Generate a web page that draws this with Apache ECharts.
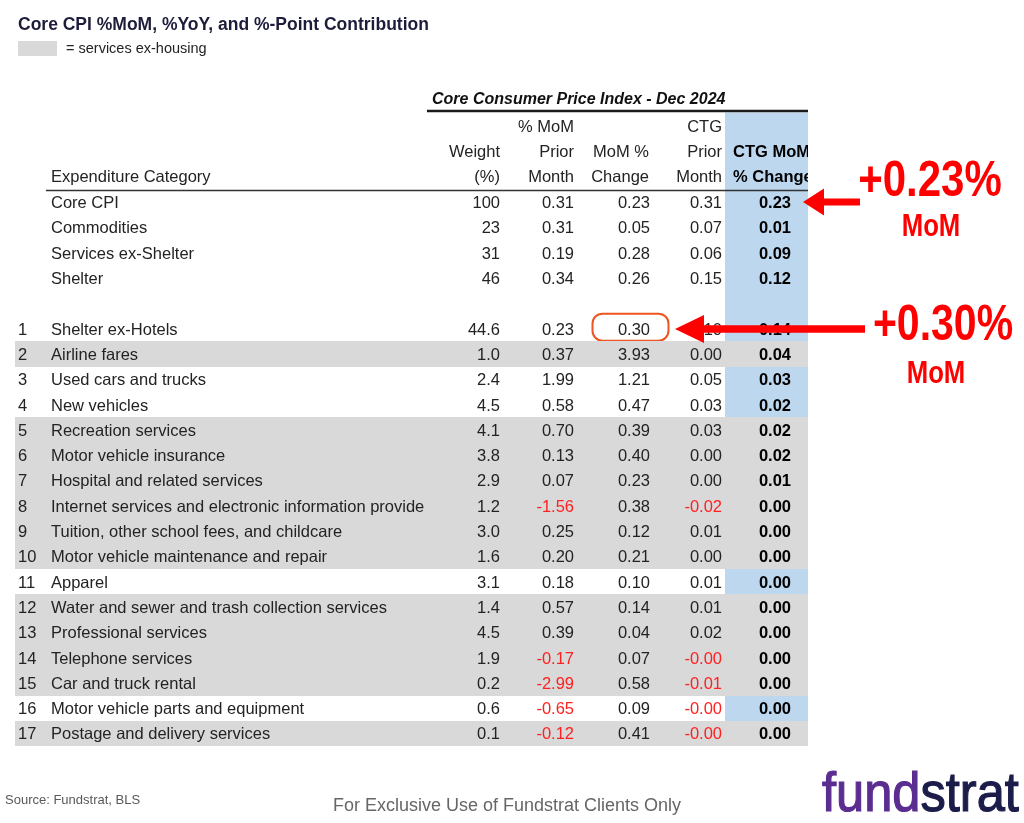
<!DOCTYPE html>
<html>
<head>
<meta charset="utf-8">
<script src="https://cdn.jsdelivr.net/npm/echarts@6/dist/echarts.min.js"></script>
<style>html,body{margin:0;padding:0;background:#fff}#c{width:1024px;height:823px}</style>
</head>
<body>
<div id="c"></div>
<script>
// ---------------- data ----------------
const rowNumbers = ['', '', '', '', '', '1', '2', '3', '4', '5', '6', '7', '8', '9', '10', '11', '12', '13', '14', '15', '16', '17'];
const categories = ['Core CPI', 'Commodities', 'Services ex-Shelter', 'Shelter', '',
  'Shelter ex-Hotels', 'Airline fares', 'Used cars and trucks', 'New vehicles', 'Recreation services',
  'Motor vehicle insurance', 'Hospital and related services', 'Internet services and electronic information provide',
  'Tuition, other school fees, and childcare', 'Motor vehicle maintenance and repair', 'Apparel',
  'Water and sewer and trash collection services', 'Professional services', 'Telephone services',
  'Car and truck rental', 'Motor vehicle parts and equipment', 'Postage and delivery services'];
const weights   = [100, 23, 31, 46, null, 44.6, 1.0, 2.4, 4.5, 4.1, 3.8, 2.9, 1.2, 3.0, 1.6, 3.1, 1.4, 4.5, 1.9, 0.2, 0.6, 0.1];
const momPrior  = [0.31, 0.31, 0.19, 0.34, null, 0.23, 0.37, 1.99, 0.58, 0.70, 0.13, 0.07, -1.56, 0.25, 0.20, 0.18, 0.57, 0.39, -0.17, -2.99, -0.65, -0.12];
const momChange = [0.23, 0.05, 0.28, 0.26, null, 0.30, 3.93, 1.21, 0.47, 0.39, 0.40, 0.23, 0.38, 0.12, 0.21, 0.10, 0.14, 0.04, 0.07, 0.58, 0.09, 0.41];
const ctgPrior  = [0.31, 0.07, 0.06, 0.15, null, 0.10, 0.00, 0.05, 0.03, 0.03, 0.00, 0.00, -0.02, 0.01, 0.00, 0.01, 0.01, 0.02, -0.001, -0.01, -0.001, -0.001];
const ctgMoM    = [0.23, 0.01, 0.09, 0.12, null, 0.14, 0.04, 0.03, 0.02, 0.02, 0.02, 0.01, 0.00, 0.00, 0.00, 0.00, 0.00, 0.00, 0.00, 0.00, 0.00, 0.00];
const servicesExHousing = [false, false, false, false, false, false, true, false, false, true, true, true, true, true, true, false, true, true, true, true, false, true];
const headerTop = ['', '% MoM', '', 'CTG', ''];
const headerMid = ['Weight', 'Prior', 'MoM %', 'Prior', 'CTG MoM'];
const headerBot = ['(%)', 'Month', 'Change', 'Month', '% Change'];
const highlightRow = 5;

// ---------------- layout / style ----------------
const FONT = "'Liberation Sans', Arial, Helvetica, sans-serif";
const TXT = '#232323', NEG = '#ff2020', GRAY = '#d9d9d9', BLUE = '#bdd7ee';
const COL = { idx: 3, name: 36, weight: 485, momPrior: 559, momChange: 635, ctgPrior: 707, ctgMoM: 776, blueLeft: 710, right: 793 };
const FS = 16.5;

function t(text, x, y, opt) {
  opt = opt || {};
  const st = {
    text: text, fill: opt.fill || TXT,
    font: opt.font || (FS + 'px ' + FONT),
    textAlign: opt.align || 'left', align: opt.align || 'left',
    textVerticalAlign: 'middle', verticalAlign: 'middle'
  };
  if (opt.stroke) { st.stroke = opt.stroke; st.lineWidth = opt.lineWidth || 1; }
  return { type: 'text', x: x, y: y, z: opt.z || 10, scaleX: opt.scaleX || 1, style: st };
}

function renderItem(params, api) {
  const i = api.value(1);
  const h = api.size([0, 1])[1];
  const yc = api.coord([0, i])[1];
  const top = Math.round(yc - h / 2), bot = Math.round(yc + h / 2);
  const X = v => api.coord([v, i])[0];
  const ty = yc + 1.5;
  const ch = [];
  if (servicesExHousing[i]) {
    ch.push({ type: 'rect', shape: { x: X(0), y: top, width: X(COL.right) - X(0), height: bot - top }, style: { fill: GRAY } });
  } else {
    ch.push({ type: 'rect', shape: { x: X(COL.blueLeft), y: top, width: X(COL.right) - X(COL.blueLeft), height: bot - top }, style: { fill: BLUE } });
  }
  const font = FS + 'px ' + FONT;
  const bold = 'bold ' + FS + 'px ' + FONT;
  if (rowNumbers[i]) ch.push(t(rowNumbers[i], X(COL.idx), ty));
  if (categories[i]) ch.push(t(categories[i], X(COL.name), ty));
  if (weights[i] != null) {
    const w = rowNumbers[i] ? weights[i].toFixed(1) : weights[i].toFixed(0);
    ch.push(t(w, X(COL.weight), ty, { align: 'right' }));
  }
  const cols = [[momPrior, COL.momPrior, font], [momChange, COL.momChange, font], [ctgPrior, COL.ctgPrior, font], [ctgMoM, COL.ctgMoM, bold]];
  cols.forEach(([arr, cx, f], k) => {
    const v = arr[i];
    if (v == null) return;
    ch.push(t(v.toFixed(2), X(cx), ty, { align: 'right', font: f, fill: (v < 0 && k < 3) ? NEG : (k === 3 ? '#000' : TXT) }));
  });
  if (i === highlightRow) {
    ch.push({ type: 'rect', z: 20, shape: { x: X(COL.momChange) - 57.5, y: yc - 15, width: 76, height: 27, r: 10 },
      style: { fill: 'none', stroke: '#ee5522', lineWidth: 2 } });
  }
  return { type: 'group', children: ch };
}

function arrow(tipX, tipY, headLen, headHalf, shaftHalf, tailX) {
  return {
    type: 'polygon', z: 100,
    shape: { points: [[tipX, tipY], [tipX + headLen, tipY - headHalf], [tipX + headLen, tipY - shaftHalf], [tailX, tipY - shaftHalf],
      [tailX, tipY + shaftHalf], [tipX + headLen, tipY + shaftHalf], [tipX + headLen, tipY + headHalf]] },
    style: { fill: '#ff0000' }
  };
}

// logo word widths
const LOGO_FONT = '55px ' + FONT, LOGO_SCALE = 0.92;
const mctx = document.createElement('canvas').getContext('2d');
mctx.font = LOGO_FONT;
const fundW = mctx.measureText('fund').width * LOGO_SCALE;

const hx = [500, 574, 649, 722, 733];
const graphics = [
  { type: 'rect', shape: { x: 18, y: 41, width: 39, height: 15 }, style: { fill: GRAY } },
  t('= services ex-housing', 66, 49, { font: '14.5px ' + FONT }),
  t('Core Consumer Price Index - Dec 2024', 432, 99.5, { font: 'italic bold 16px ' + FONT, fill: '#111' }),
  { type: 'rect', z: 1, shape: { x: 725, y: 112.5, width: 83, height: 78.5 }, style: { fill: BLUE } },
  { type: 'line', z: 30, shape: { x1: 427, y1: 111, x2: 808, y2: 111 }, style: { stroke: '#1a1a1a', lineWidth: 2.5 } },
  { type: 'line', z: 30, shape: { x1: 46, y1: 190.5, x2: 808, y2: 190.5 }, style: { stroke: '#333', lineWidth: 1.6 } },
  t('Expenditure Category', 51, 177.5),
  { type: 'rect', z: 50, shape: { x: 808, y: 140, width: 40, height: 49 }, style: { fill: '#fff' } },
  arrow(803, 202, 21, 13.5, 3.5, 860),
  arrow(675, 329, 29, 14, 3.8, 865),
  t('+0.23%', 930, 182, { align: 'center', fill: '#ff0000', font: 'bold 50px ' + FONT, z: 100, scaleX: 0.84 }),
  t('MoM', 931, 227, { align: 'center', fill: '#ff0000', font: 'bold 31px ' + FONT, z: 100, scaleX: 0.83 }),
  t('+0.30%', 943, 326, { align: 'center', fill: '#ff0000', font: 'bold 50px ' + FONT, z: 100, scaleX: 0.82 }),
  t('MoM', 936, 374, { align: 'center', fill: '#ff0000', font: 'bold 31px ' + FONT, z: 100, scaleX: 0.83 }),
  t('Source: Fundstrat, BLS', 5, 800, { font: '13px ' + FONT, fill: '#595959' }),
  t('For Exclusive Use of Fundstrat Clients Only', 507, 806, { align: 'center', font: '18px ' + FONT, fill: '#666' }),
  t('fund', 822, 796, { font: LOGO_FONT, fill: '#5b2d90', stroke: '#5b2d90', lineWidth: 1.2, scaleX: LOGO_SCALE }),
  t('strat', 822 + fundW, 796, { font: LOGO_FONT, fill: '#1c1c4a', stroke: '#1c1c4a', lineWidth: 1.2, scaleX: LOGO_SCALE })
];
[headerTop, headerMid, headerBot].forEach((arr, r) => {
  const y = 127.5 + r * 25;
  arr.forEach((s, k) => {
    if (!s) return;
    if (k === 4) graphics.push(t(s, hx[k], y, { font: 'bold ' + FS + 'px ' + FONT, fill: '#000', z: 20 }));
    else graphics.push(t(s, hx[k], y, { align: 'right', z: 20 }));
  });
});

const chart = echarts.init(document.getElementById('c'));
chart.setOption({
  animation: false,
  backgroundColor: '#fff',
  title: {
    text: 'Core CPI %MoM, %YoY, and %-Point Contribution',
    left: 18, top: 14, padding: 0,
    textStyle: { fontFamily: FONT, fontSize: 17.5, fontWeight: 'bold', color: '#1d1d3b', lineHeight: 22 }
  },
  grid: { left: 15, top: 189.5, width: 793, height: 556.6, show: false },
  xAxis: { type: 'value', min: 0, max: COL.right, show: false },
  yAxis: { type: 'category', data: categories, inverse: true, show: false },
  series: [{
    type: 'custom',
    renderItem: renderItem,
    encode: { x: 0, y: 1 },
    data: categories.map((c, i) => [0, i]),
    clip: false,
    silent: true
  }],
  graphic: graphics
});
</script>
</body>
</html>
